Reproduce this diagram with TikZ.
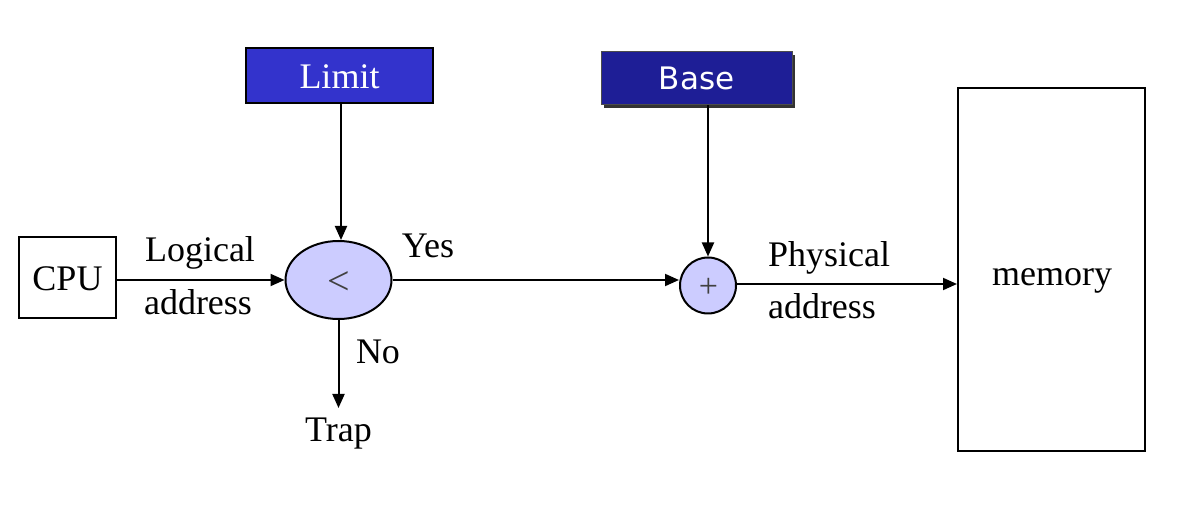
\documentclass[tikz,border=0pt]{standalone}
\usepackage{fontspec}
\setmainfont{Liberation Serif}
\newfontfamily\basefont{DejaVu Sans}
\usetikzlibrary{arrows.meta,shapes.geometric}
\definecolor{limitblue}{HTML}{3333CC}
\definecolor{baseblue}{HTML}{1E1E96}
\definecolor{opfill}{HTML}{CCCCFF}
\tikzset{
  txt/.style={font=\fontsize{36}{40}\selectfont, inner sep=0pt},
  conn/.style={line width=2pt, -{Triangle[length=14pt,width=12pt]}},
  boxd/.style={draw, line width=2pt},
}
\begin{document}
\begin{tikzpicture}[x=1pt,y=-1pt]
\useasboundingbox (0,0) rectangle (1179,518);
% boxes
\node[boxd, minimum width=97pt, minimum height=81pt, inner sep=0pt] (cpu) at (67.5,277.5) {};
\node[txt] at (67.5,279) {CPU};
\node[boxd, minimum width=187pt, minimum height=363pt, inner sep=0pt] (mem) at (1051.5,269.5) {};
\node[txt] at (1052,281) {memory};
\node[draw=black, line width=2.5pt, fill=limitblue, minimum width=187pt, minimum height=55pt, inner sep=0pt] (limit) at (339.5,75.5) {};
\node[txt, text=white] at (339.5,77) {Limit};
\fill[black!80] (604,55) rectangle (795,108);
\node[draw=black!70, line width=1pt, fill=baseblue, minimum width=191pt, minimum height=53pt, inner sep=0pt] (base) at (696.5,78.5) {};
\node[font=\basefont\fontsize{31}{36}\selectfont, text=white, inner sep=0pt] at (696.5,78) {Base};
% operators
\node[ellipse, draw, line width=2pt, fill=opfill, minimum width=106pt, minimum height=78pt, inner sep=0pt] (cmp) at (338.5,280) {};
\node[font=\fontsize{40}{44}\selectfont, text=black!75, inner sep=0pt] at (339,283) {<};
\node[circle, draw, line width=2pt, fill=opfill, minimum size=56pt, inner sep=0pt] (add) at (708,285.5) {};
\node[font=\fontsize{34}{38}\selectfont, text=black!75, inner sep=0pt] at (708.5,288) {+};
\coordinate (trap) at (338.5,408);
% connectors
\draw[conn] (cpu.east |- cmp.west) -- (cmp.west);
\draw[conn] (limit.south -| 341,0) -- (341,0 |- cmp.north);
\draw[conn] (cmp.east) -- (cmp.east -| add.west);
\draw[conn] (base.south -| add.north) -- (add.north);
\draw[conn] (add.east |- 0,284) -- (mem.west |- 0,284);
\draw[conn] (cmp.south) -- (trap);
% labels
\node[txt] at (200,253) {Logical};
\node[txt] at (198,302) {address};
\node[txt] at (428,246) {Yes};
\node[txt] at (829,258) {Physical};
\node[txt] at (822,306) {address};
\node[txt] at (378,352) {No};
\node[txt] at (338.5,434) {Trap};
\end{tikzpicture}
\end{document}
